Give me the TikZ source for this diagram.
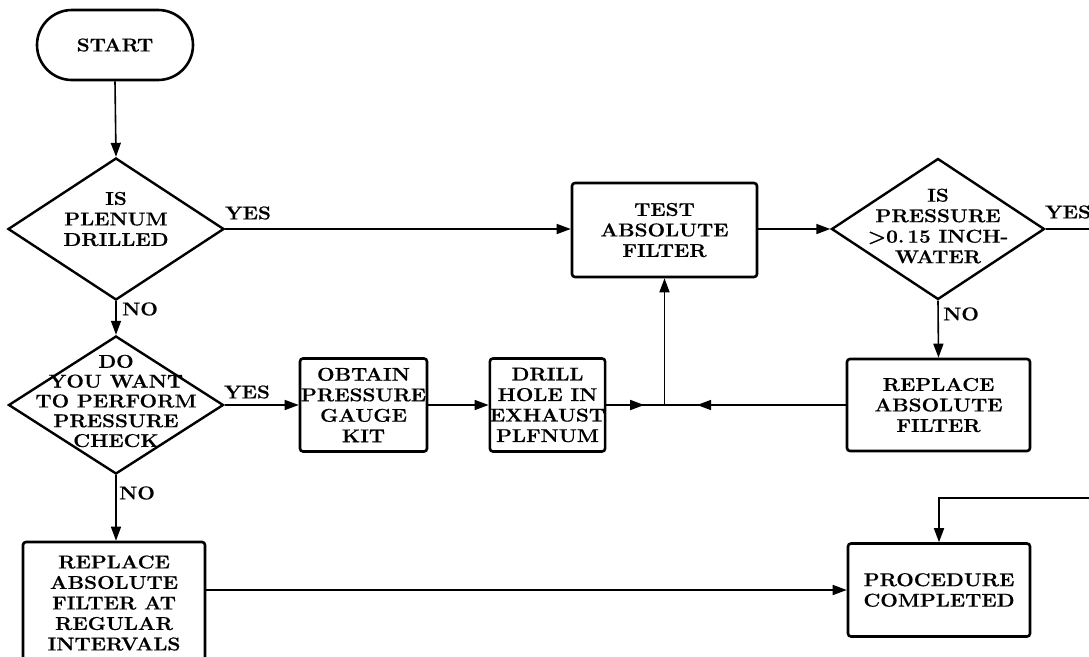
\documentclass[tikz,border=0pt]{standalone}
\usepackage{fontspec}
\setmainfont{Latin Modern Roman}[FakeStretch=1.12, BoldFeatures={FakeBold=0.6}]
\usetikzlibrary{shapes.geometric,arrows.meta,decorations.markings}
\tikzset{
  x=1pt,y=-1pt,
  >={Triangle[length=14pt,width=10pt]},
  txt/.style={font=\fontsize{18.5}{20.5}\selectfont\bfseries, align=center},
  box/.style={draw, line width=2.6pt, rounded corners=3pt, txt, inner sep=0pt},
  dia/.style={draw, diamond, line width=2.4pt, inner sep=0pt},
  conn/.style={line width=1.6pt},
  arr/.style={conn, ->},
  midarr/.style={conn, postaction={decorate},
    decoration={markings, mark=at position #1 with {\arrow{>}}}},
  lab/.style={txt, inner sep=0pt},
}
\begin{document}
\begin{tikzpicture}
\useasboundingbox (0,0) rectangle (1089,656);
% nodes
\node[box, rounded corners=35pt, minimum width=156pt, minimum height=70pt] (start) at (115,45) {START};
\node[dia, minimum width=216pt, minimum height=142pt,
      label={[lab, yshift=10pt]center:{IS\\PLENUM\\DRILLED}}] (d1) at (116,229) {};
\node[dia, minimum width=215pt, minimum height=138pt,
      label={[lab, font=\fontsize{18.5}{19.8}\selectfont\bfseries, yshift=4pt]center:{DO\\YOU WANT\\TO PERFORM\\PRESSURE\\CHECK}}] (d2) at (116,405) {};
\node[dia, minimum width=213pt, minimum height=141pt,
      label={[lab, yshift=3pt]center:{IS\\PRESSURE\\{>}0.\,15 INCH-\\WATER}}] (d3) at (938,229) {};
\node[box, minimum width=185pt, minimum height=94pt] (test) at (664.5,230) {TEST\\ABSOLUTE\\FILTER};
\node[box, minimum width=127pt, minimum height=93pt] (obtain) at (363.5,405) {OBTAIN\\PRESSURE\\GAUGE\\KIT};
\node[box, minimum width=109pt, minimum height=93pt] (drill) at (547.5,405) {DRILL\\HOLE IN\\EXHAUST\\PLFNUM};
\node[box, minimum width=183pt, minimum height=92pt] (replace) at (938.5,405) {REPLACE\\ABSOLUTE\\FILTER};
\node[box, minimum width=182pt, minimum height=93pt] (proc) at (939,590) {PROCEDURE\\COMPLETED};
\node[box, minimum width=182pt, minimum height=122pt] (regular) at (114,603) {REPLACE\\ABSOLUTE\\FILTER AT\\REGULAR\\INTERVALS};
% labels
\node[lab] (yes1) at (248,213) {YES};
\node[lab] (yes2) at (247,392) {YES};
\node[lab] (yes3) at (1068,212) {YES};
\node[lab] (no1) at (140,309) {NO};
\node[lab] (no2) at (137,493) {NO};
\node[lab] (no3) at (961,314) {NO};
% coordinates
\coordinate (junc) at (test.south |- drill.east);
\coordinate (r1) at (1100,229);
\coordinate (r2) at (1100,498);
% connectors
\draw[arr] (start.south) -- (d1.north);
\draw[arr] (d1.south) -- (d2.north);
\draw[arr] (d1.east) -- (d1.east -| test.west);
\draw[arr] (test.east |- d3.west) -- (d3.west);
\draw[conn] (d3.east) -- (r1);
\draw[arr] (r2) -- (r2 -| proc.north) -- (proc.north);
\draw[arr] (d3.south) -- (replace.north);
\draw[arr] (d2.east) -- (obtain.west);
\draw[arr] (obtain.east) -- (drill.west);
\draw[midarr=0.65] (drill.east) -- (junc);
\draw[midarr=0.82] (replace.west) -- (junc);
\draw[arr] (junc) -- (test.south);
\draw[arr] (d2.south) -- (d2.south |- regular.north);
\draw[arr] (regular.east |- proc.west) -- (proc.west);
\end{tikzpicture}
\end{document}
